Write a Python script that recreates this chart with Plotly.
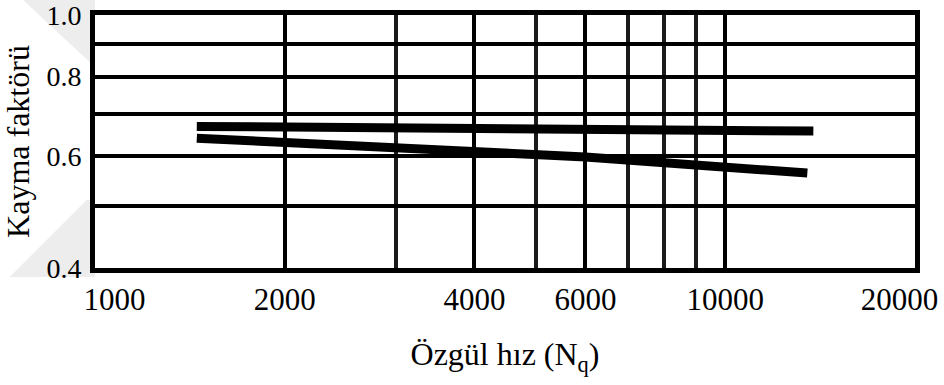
import plotly.graph_objects as go

# Data
nq_upper = [1450, 13800]
slip_upper = [0.668, 0.657]
nq_lower = [1450, 6000, 13500]
slip_lower = [0.640, 0.598, 0.564]

NB = "\u00a0"
x_tick_vals = [1000, 2000, 4000, 6000, 10000, 20000]
x_tick_text = [NB * 5 + "1000", "2000", "4000", "6000", "10000", "20000" + NB * 4]
x_minor_grid = [3000, 5000, 7000, 8000, 9000]
y_tick_vals = [0.4, 0.6, 0.8, 1.0]
y_tick_text = ["0.4", "0.6", "0.8", "1.0"]
y_minor_grid = [0.5, 0.7, 0.9]

FONT = "Liberation Serif, Times New Roman, serif"

fig = go.Figure()
for xs, ys in [(nq_upper, slip_upper), (nq_lower, slip_lower)]:
    fig.add_trace(go.Scatter(
        x=xs, y=ys, mode="lines",
        line=dict(color="black", width=9),
        showlegend=False, hoverinfo="skip",
    ))

# faint watermark fragments in the left margin
fig.add_shape(type="path", xref="paper", yref="paper", layer="below",
              path="M -0.088 1.06 L 0 1.06 L 0 0.794 Z",
              fillcolor="#ededed", line=dict(width=0))
fig.add_shape(type="path", xref="paper", yref="paper", layer="below",
              path="M -0.010 0.269 L 0 0.269 L 0 -0.036 L -0.104 -0.036 Z",
              fillcolor="#ededed", line=dict(width=0))

fig.update_xaxes(
    type="log", range=[2.9998, 4.3012],
    tickvals=x_tick_vals, ticktext=x_tick_text,
    showgrid=True, gridcolor="black", gridwidth=4,
    minor=dict(tickvals=x_minor_grid, showgrid=True, gridcolor="#1a1a1a", gridwidth=3.5, ticks=""),
    showline=True, linecolor="black", linewidth=5, mirror=True,
    ticks="", ticklabeloverflow="allow",
    tickfont=dict(family=FONT, size=31, color="black"),
    title=dict(text="Özgül hız (N<sub>q</sub>)", font=dict(family=FONT, size=32, color="black"), standoff=28),
    zeroline=False,
)
fig.update_yaxes(
    type="log", range=[-0.3981, 0.0002],
    tickvals=y_tick_vals, ticktext=y_tick_text,
    showgrid=True, gridcolor="black", gridwidth=4,
    minor=dict(tickvals=y_minor_grid, showgrid=True, gridcolor="black", gridwidth=4, ticks=""),
    showline=True, linecolor="black", linewidth=5, mirror=True,
    ticks="", ticklabelstandoff=3, ticklabeloverflow="allow",
    tickfont=dict(family=FONT, size=28, color="black"),
    title=dict(text="Kayma faktörü", font=dict(family=FONT, size=32, color="black"), standoff=12),
    zeroline=False,
)
fig.update_layout(
    width=944, height=385,
    margin=dict(l=95, r=29, t=15, b=117, autoexpand=False),
    paper_bgcolor="white", plot_bgcolor="white",
)
fig.write_html("out.html")
